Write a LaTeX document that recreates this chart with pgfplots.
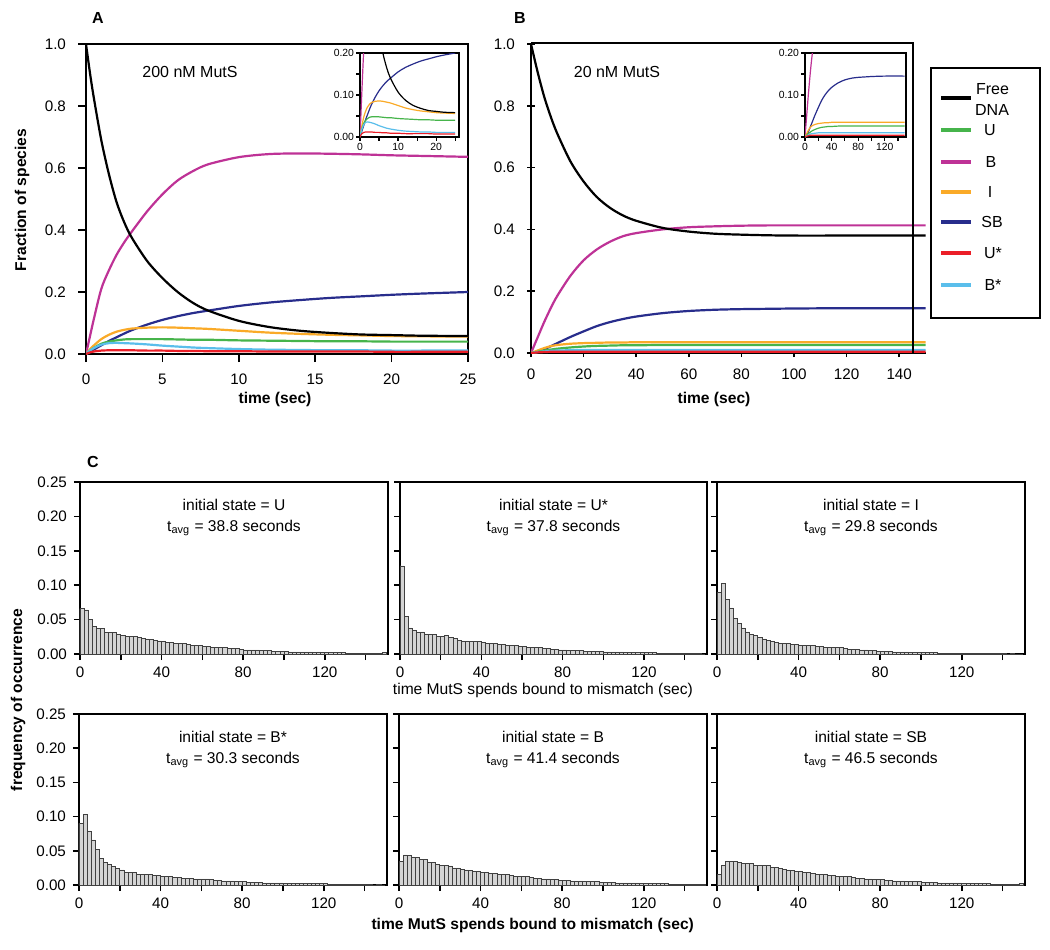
\documentclass[border=0pt]{standalone}
\usepackage{fontspec}
\setmainfont{Liberation Sans}
\usepackage{pgfplots}
\usepackage{pgfplotstable}
\pgfplotsset{compat=1.18}
\definecolor{cU}{RGB}{70,180,75}
\definecolor{cB}{RGB}{190,50,150}
\definecolor{cI}{RGB}{250,170,40}
\definecolor{cSB}{RGB}{40,45,140}
\definecolor{cUs}{RGB}{235,30,40}
\definecolor{cBs}{RGB}{90,190,235}
\definecolor{barfill}{RGB}{212,212,212}
\newcommand\fs[1]{\fontsize{#1}{#1}\selectfont}

\pgfplotstableread{
t    free  U     B     I     SB    Us    Bs
0    1.000 0.000 0.000 0.000 0.000 0.000 0.000
0.25 0.910 0.010 0.055 0.015 0.007 0.005 0.011
0.5  0.830 0.019 0.110 0.027 0.014 0.008 0.019
1    0.690 0.033 0.210 0.048 0.028 0.011 0.030
1.5  0.580 0.040 0.270 0.062 0.042 0.012 0.035
2    0.490 0.044 0.320 0.072 0.054 0.012 0.036
2.5  0.425 0.047 0.360 0.078 0.066 0.012 0.035
3    0.375 0.048 0.395 0.082 0.077 0.012 0.034
4    0.300 0.048 0.460 0.085 0.095 0.011 0.031
5    0.245 0.048 0.515 0.086 0.110 0.011 0.027
6    0.200 0.047 0.560 0.085 0.122 0.010 0.024
7    0.165 0.046 0.590 0.083 0.132 0.010 0.021
8    0.140 0.046 0.612 0.081 0.140 0.009 0.019
10   0.107 0.044 0.635 0.075 0.155 0.009 0.016
12   0.087 0.043 0.645 0.069 0.166 0.008 0.014
14   0.075 0.042 0.647 0.065 0.174 0.008 0.013
16   0.068 0.041 0.646 0.062 0.181 0.008 0.012
18   0.063 0.041 0.644 0.060 0.186 0.008 0.012
20   0.061 0.040 0.641 0.058 0.191 0.007 0.011
22   0.059 0.040 0.639 0.057 0.195 0.007 0.011
25   0.058 0.040 0.636 0.056 0.200 0.007 0.011
}\tabA

\pgfplotstableread{
t    free  U     B     I     SB    Us    Bs
0    1.000 0.000 0.000 0.000 0.000 0.000 0.000
2.5  0.910 0.004 0.050 0.008 0.004 0.002 0.003
5    0.830 0.008 0.100 0.016 0.012 0.003 0.005
7.5  0.765 0.011 0.145 0.022 0.022 0.004 0.007
10   0.710 0.014 0.185 0.026 0.032 0.004 0.008
15   0.620 0.018 0.250 0.030 0.052 0.004 0.009
20   0.555 0.021 0.300 0.032 0.070 0.004 0.010
25   0.505 0.023 0.335 0.033 0.087 0.004 0.010
30   0.470 0.024 0.360 0.034 0.100 0.004 0.010
35   0.445 0.025 0.378 0.034 0.110 0.004 0.010
40   0.428 0.025 0.388 0.035 0.118 0.004 0.010
50   0.405 0.026 0.400 0.035 0.129 0.004 0.010
60   0.393 0.026 0.407 0.035 0.136 0.004 0.010
70   0.386 0.026 0.410 0.035 0.140 0.004 0.010
80   0.383 0.026 0.412 0.035 0.142 0.004 0.010
90   0.381 0.026 0.413 0.035 0.143 0.004 0.010
100  0.380 0.026 0.413 0.035 0.144 0.004 0.010
120  0.380 0.026 0.413 0.035 0.145 0.004 0.010
150  0.380 0.026 0.413 0.035 0.145 0.004 0.010
}\tabB

\pgfplotstableread{
x   U     Us    I     Bs    B     SB
0   0.066 0.128 0.089 0.090 0.035 0.015
2   0.064 0.055 0.103 0.103 0.044 0.029
4   0.050 0.038 0.079 0.079 0.043 0.034
6   0.040 0.034 0.067 0.066 0.041 0.035
8   0.037 0.031 0.052 0.052 0.040 0.034
10  0.037 0.032 0.045 0.039 0.038 0.033
12  0.031 0.028 0.038 0.033 0.037 0.032
14  0.031 0.028 0.032 0.030 0.033 0.031
16  0.031 0.028 0.029 0.027 0.033 0.031
18  0.029 0.025 0.027 0.024 0.030 0.029
20  0.027 0.025 0.024 0.022 0.029 0.029
22  0.026 0.027 0.022 0.019 0.029 0.029
24  0.026 0.024 0.020 0.018 0.028 0.029
26  0.025 0.023 0.018 0.018 0.025 0.026
28  0.024 0.020 0.017 0.016 0.025 0.026
30  0.023 0.019 0.016 0.016 0.023 0.024
32  0.022 0.019 0.015 0.015 0.022 0.023
34  0.021 0.018 0.015 0.015 0.021 0.022
36  0.020 0.018 0.014 0.014 0.020 0.021
38  0.019 0.018 0.014 0.014 0.020 0.020
40  0.018 0.017 0.013 0.013 0.019 0.020
42  0.017 0.016 0.013 0.012 0.018 0.019
44  0.017 0.016 0.012 0.012 0.017 0.018
46  0.016 0.015 0.012 0.011 0.017 0.017
48  0.015 0.014 0.011 0.011 0.016 0.016
50  0.015 0.014 0.011 0.010 0.015 0.016
52  0.014 0.013 0.010 0.010 0.015 0.016
54  0.013 0.012 0.010 0.010 0.014 0.014
56  0.013 0.012 0.010 0.009 0.013 0.014
58  0.012 0.011 0.009 0.009 0.013 0.013
60  0.011 0.011 0.009 0.009 0.012 0.013
62  0.011 0.010 0.008 0.009 0.012 0.012
64  0.010 0.010 0.007 0.008 0.011 0.012
66  0.009 0.009 0.007 0.007 0.010 0.011
68  0.009 0.009 0.007 0.007 0.010 0.010
70  0.009 0.008 0.006 0.006 0.009 0.010
72  0.008 0.008 0.006 0.006 0.009 0.009
74  0.008 0.007 0.005 0.006 0.008 0.009
76  0.008 0.007 0.005 0.005 0.008 0.008
78  0.007 0.006 0.004 0.005 0.007 0.008
80  0.006 0.006 0.004 0.005 0.007 0.008
82  0.006 0.005 0.004 0.004 0.007 0.007
84  0.006 0.005 0.004 0.004 0.006 0.007
86  0.006 0.005 0.003 0.004 0.006 0.006
88  0.005 0.005 0.003 0.004 0.006 0.006
90  0.005 0.004 0.003 0.003 0.005 0.006
92  0.005 0.004 0.003 0.003 0.005 0.005
94  0.004 0.004 0.002 0.003 0.005 0.005
96  0.004 0.004 0.002 0.003 0.005 0.005
98  0.004 0.004 0.002 0.003 0.004 0.005
100 0.004 0.003 0.002 0.002 0.004 0.004
102 0.003 0.003 0.002 0.002 0.004 0.004
104 0.003 0.003 0.002 0.002 0.004 0.004
106 0.003 0.003 0.002 0.002 0.003 0.004
108 0.003 0.003 0.001 0.002 0.003 0.003
110 0.003 0.002 0.001 0.002 0.003 0.003
112 0.003 0.002 0.001 0.002 0.003 0.003
114 0.002 0.002 0.001 0.002 0.003 0.003
116 0.003 0.002 0.001 0.002 0.003 0.003
118 0.002 0.002 0.001 0.002 0.002 0.003
120 0.002 0.002 0.001 0.002 0.002 0.002
122 0.002 0.002 0.001 0.001 0.002 0.002
124 0.002 0.002 0.001 0.001 0.002 0.002
126 0.002 0.001 0.001 0.001 0.002 0.002
128 0.002 0.001 0.001 0.001 0.002 0.002
130 0.001 0.001 0.001 0.001 0.002 0.002
132 0.001 0.001 0.001 0.001 0.001 0.002
134 0.001 0.001 0.001 0.001 0.001 0.001
136 0.001 0.001 0.001 0.001 0.001 0.001
138 0.001 0.001 0.001 0.001 0.001 0.001
140 0.001 0.001 0.001 0.001 0.001 0.001
142 0.001 0.001 0.000 0.001 0.001 0.001
144 0.001 0.001 0.001 0.000 0.001 0.001
146 0.001 0.001 0.000 0.001 0.001 0.001
148 0.002 0.000 0.000 0.000 0.001 0.002
150 0     0     0     0     0     0
}\hist

\pgfplotsset{
  base/.style={scale only axis, anchor=south west,
    /pgf/number format/assume math mode=true,
    tick align=outside, tick pos=left,
    axis line style={line width=0.9pt},
    every tick/.style={black, line width=0.8pt},
    major tick length=3pt, minor tick length=3pt},
  mainax/.style={base, ymin=0, ymax=1,
    major tick length=4pt,
    ytick={0,0.2,0.4,0.6,0.8,1},
    tick label style={font=\fs{7.6}},
    xticklabel style={yshift=-2.5pt},
    yticklabel style={xshift=-2.5pt, /pgf/number format/.cd,fixed,fixed zerofill,precision=1}},
  inset/.style={base, ymin=0, ymax=0.2, ytick={0,0.1,0.2}, minor ytick={0.05,0.15},
    axis line style={line width=0.7pt},
    every tick/.style={black, line width=0.6pt},
    major tick length=1.8pt, minor tick length=1.8pt,
    yticklabel style={/pgf/number format/.cd,fixed,fixed zerofill,precision=2},
    tick label style={font=\fs{5.2}, inner sep=1pt},
    axis background/.style={fill=white}},
  hist/.style={base, width=154pt, height=86pt, xmin=0, xmax=151, ymin=0, ymax=0.25,
    xtick={0,40,80,120}, minor xtick={20,60,100,140},
    ytick={0,0.05,0.1,0.15,0.2,0.25},
    yticklabel style={/pgf/number format/.cd,fixed,fixed zerofill,precision=2},
    tick label style={font=\fs{7.6}}},
  bars/.style={ybar interval, fill=barfill, draw=black!75, line width=0.35pt},
  cl/.style={line width=1.1pt, smooth},
  ci/.style={line width=0.6pt, smooth},
}

\begin{document}
\begin{tikzpicture}
\path[use as bounding box] (0,0) rectangle (525pt,-474.5pt);

% ---------------- Panel A ----------------
\begin{axis}[mainax, at={(43pt,-177pt)}, width=191pt, height=155pt,
  xmin=0, xmax=25, xtick={0,5,10,15,20,25}]
\addplot[cl, cB] table[x=t,y=B] {\tabA};
\addplot[cl, cSB] table[x=t,y=SB] {\tabA};
\addplot[cl, cI] table[x=t,y=I] {\tabA};
\addplot[cl, cU] table[x=t,y=U] {\tabA};
\addplot[cl, cBs] table[x=t,y=Bs] {\tabA};
\addplot[cl, cUs] table[x=t,y=Us] {\tabA};
\addplot[cl, black] table[x=t,y=free] {\tabA};
\end{axis}
\begin{axis}[inset, at={(180pt,-68.5pt)}, width=49.5pt, height=42pt,
  xmin=0, xmax=26, xtick={0,10,20}, minor xtick={5,15,25}]
\addplot[ci, cB] table[x=t,y=B] {\tabA};
\addplot[ci, cSB] table[x=t,y=SB] {\tabA};
\addplot[ci, cI] table[x=t,y=I] {\tabA};
\addplot[ci, cU] table[x=t,y=U] {\tabA};
\addplot[ci, cBs] table[x=t,y=Bs] {\tabA};
\addplot[ci, cUs] table[x=t,y=Us] {\tabA};
\addplot[ci, black] table[x=t,y=free] {\tabA};
\end{axis}

% ---------------- Panel B ----------------
\begin{axis}[mainax, at={(265.5pt,-176.5pt)}, width=197.25pt, height=154.5pt,
  xmin=0, xmax=150, xtick={0,20,40,60,80,100,120,140},
  axis x line=bottom, axis y line=left, axis line style={-, line width=0.9pt}]
\addplot[cl, cB] table[x=t,y=B] {\tabB};
\addplot[cl, cSB] table[x=t,y=SB] {\tabB};
\addplot[cl, cI] table[x=t,y=I] {\tabB};
\addplot[cl, cU] table[x=t,y=U] {\tabB};
\addplot[cl, cBs] table[x=t,y=Bs] {\tabB};
\addplot[cl, cUs] table[x=t,y=Us] {\tabB};
\addplot[cl, black] table[x=t,y=free] {\tabB};
\end{axis}
\draw[line width=0.9pt] (265.5pt,-21.5pt) -- (456.5pt,-21.5pt) -- (456.5pt,-176.5pt);
\begin{axis}[inset, at={(402.5pt,-68.5pt)}, width=50.5pt, height=42pt,
  xmin=0, xmax=152, xtick={0,40,80,120}, minor xtick={20,60,100,140}]
\addplot[ci, cB] table[x=t,y=B] {\tabB};
\addplot[ci, cSB] table[x=t,y=SB] {\tabB};
\addplot[ci, cI] table[x=t,y=I] {\tabB};
\addplot[ci, cU] table[x=t,y=U] {\tabB};
\addplot[ci, cBs] table[x=t,y=Bs] {\tabB};
\addplot[ci, cUs] table[x=t,y=Us] {\tabB};
\addplot[ci, black] table[x=t,y=free] {\tabB};
\end{axis}

% labels top
\node[font=\fs{8}\bfseries] at (49pt,-9pt) {A};
\node[font=\fs{8}\bfseries] at (260pt,-9pt) {B};
\node[font=\fs{8}\bfseries] at (46.5pt,-231pt) {C};
\node[font=\fs{8}] at (95pt,-36pt) {200 nM MutS};
\node[font=\fs{8}] at (308.5pt,-36pt) {20 nM MutS};
\node[font=\fs{7.8}\bfseries] at (137.5pt,-199.5pt) {time (sec)};
\node[font=\fs{7.8}\bfseries] at (357pt,-199.5pt) {time (sec)};
\node[font=\fs{7.8}\bfseries, rotate=90] at (11pt,-100pt) {Fraction of species};

% legend
\draw[line width=0.9pt, fill=white] (465.5pt,-34pt) rectangle (520pt,-159pt);
\draw[line width=1.6pt, black] (470.5pt,-49pt) -- (485.5pt,-49pt);
\node[font=\fs{8}, anchor=east] at (508pt,-44.5pt) {Free};
\node[font=\fs{8}, anchor=east] at (508pt,-55pt) {DNA};
\draw[line width=1.6pt, cU] (470.5pt,-65pt) -- (485.5pt,-65pt);
\node[font=\fs{8}] at (495pt,-65pt) {U};
\draw[line width=1.6pt, cB] (470.5pt,-81pt) -- (485.5pt,-81pt);
\node[font=\fs{8}] at (495.5pt,-81pt) {B};
\draw[line width=1.6pt, cI] (470.5pt,-96pt) -- (485.5pt,-96pt);
\node[font=\fs{8}] at (495pt,-96pt) {I};
\draw[line width=1.6pt, cSB] (470.5pt,-111pt) -- (485.5pt,-111pt);
\node[font=\fs{8}] at (496pt,-111pt) {SB};
\draw[line width=1.6pt, cUs] (470.5pt,-126.5pt) -- (485.5pt,-126.5pt);
\node[font=\fs{8}] at (496.5pt,-126.5pt) {U*};
\draw[line width=1.6pt, cBs] (470.5pt,-142.5pt) -- (485.5pt,-142.5pt);
\node[font=\fs{8}] at (496.5pt,-142.5pt) {B*};

% ---------------- Panel C ----------------
\begin{axis}[hist, at={(40pt,-327pt)}]
\addplot[bars] table[x=x,y=U] {\hist};
\node[font=\fs{7.8}] at (rel axis cs:0.5,0.866) {initial state = U};
\node[font=\fs{7.8}] at (rel axis cs:0.5,0.733) {t\textsubscript{avg} = 38.8 seconds};
\end{axis}
\begin{axis}[hist, at={(200pt,-327pt)}, width=153.5pt, yticklabels={}]
\addplot[bars] table[x=x,y=Us] {\hist};
\node[font=\fs{7.8}] at (rel axis cs:0.5,0.866) {initial state = U*};
\node[font=\fs{7.8}] at (rel axis cs:0.5,0.733) {t\textsubscript{avg} = 37.8 seconds};
\end{axis}
\begin{axis}[hist, at={(358.5pt,-327pt)}, yticklabels={}]
\addplot[bars] table[x=x,y=I] {\hist};
\node[font=\fs{7.8}] at (rel axis cs:0.5,0.866) {initial state = I};
\node[font=\fs{7.8}] at (rel axis cs:0.5,0.733) {t\textsubscript{avg} = 29.8 seconds};
\end{axis}
\begin{axis}[hist, at={(39.5pt,-442.5pt)}, height=85.5pt]
\addplot[bars] table[x=x,y=Bs] {\hist};
\node[font=\fs{7.8}] at (rel axis cs:0.5,0.866) {initial state = B*};
\node[font=\fs{7.8}] at (rel axis cs:0.5,0.733) {t\textsubscript{avg} = 30.3 seconds};
\end{axis}
\begin{axis}[hist, at={(199.5pt,-442.5pt)}, height=85.5pt, width=154pt, yticklabels={}]
\addplot[bars] table[x=x,y=B] {\hist};
\node[font=\fs{7.8}] at (rel axis cs:0.5,0.866) {initial state = B};
\node[font=\fs{7.8}] at (rel axis cs:0.5,0.733) {t\textsubscript{avg} = 41.4 seconds};
\end{axis}
\begin{axis}[hist, at={(358.5pt,-442.5pt)}, height=85.5pt, yticklabels={}]
\addplot[bars] table[x=x,y=SB] {\hist};
\node[font=\fs{7.8}] at (rel axis cs:0.5,0.866) {initial state = SB};
\node[font=\fs{7.8}] at (rel axis cs:0.5,0.733) {t\textsubscript{avg} = 46.5 seconds};
\end{axis}
\node[font=\fs{7.8}, anchor=east] at (350pt,-345pt) {time MutS spends bound to mismatch (sec)};
\node[font=\fs{7.8}\bfseries, anchor=east] at (350.5pt,-462.5pt) {time MutS spends bound to mismatch (sec)};
\node[font=\fs{7.8}\bfseries, rotate=90] at (9pt,-350pt) {frequency of occurrence};
\end{tikzpicture}
\end{document}
